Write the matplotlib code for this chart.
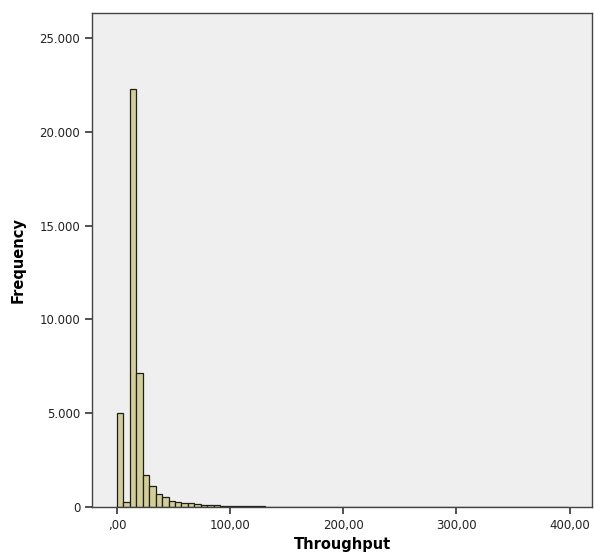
import numpy as np
import matplotlib

matplotlib.use("Agg", force=True)
import matplotlib.pyplot as plt  # noqa: E402
from matplotlib.ticker import FuncFormatter  # noqa: E402

# Histogram of Throughput (SPSS style): bin width and counts
bin_width = 5.7
counts = [
    5020, 280, 22300, 7130, 1700, 1120, 670, 500, 330, 265,
    230, 195, 150, 120, 95, 75, 60, 50, 40, 32,
    28, 24, 20, 17, 15, 13, 11, 10, 9, 8,
    7, 6, 5, 5, 4, 4, 3, 3, 2, 2,
    3, 2, 2, 1, 2, 1, 1, 2, 1, 1,
    1, 1, 0, 1, 1, 1, 0, 1, 1, 0,
    1, 1, 1, 0, 1, 1, 0, 1, 1, 1,
]
y_ticks = [0, 5000, 10000, 15000, 20000, 25000]
x_ticks = [0, 100, 200, 300, 400]


def de_int(v, pos=None):
    # German thousands separator: 25.000
    return "0" if v == 0 else f"{int(v):,}".replace(",", ".")


def de_dec(v, pos=None):
    # German decimal comma, SPSS drops leading zero: ,00
    s = f"{v:.2f}".replace(".", ",")
    return s[1:] if s.startswith("0") else s


plt.rcParams["font.family"] = ["DejaVu Sans"]

fig = plt.figure(figsize=(5.94, 5.57), dpi=100)
ax = fig.add_axes([0.155, 0.090, 0.842, 0.887])
ax.set_facecolor("#efefef")

edges = np.arange(len(counts)) * bin_width
ax.bar(edges, counts, width=bin_width, align="edge",
       color="#d3ce97", edgecolor="#1e1e1e", linewidth=0.9)

ax.set_xlim(-22, 420)
ax.set_ylim(0, 26340)
ax.set_xticks(x_ticks)
ax.set_yticks(y_ticks)
ax.xaxis.set_major_formatter(FuncFormatter(de_dec))
ax.yaxis.set_major_formatter(FuncFormatter(de_int))
ax.tick_params(axis="both", direction="out", length=5, width=1.2,
               color="#333333", labelsize=8.5, labelcolor="#222222")
for sp in ax.spines.values():
    sp.set_color("#444444")
    sp.set_linewidth(1.0)

ax.set_xlabel("Throughput", fontsize=10.5, fontweight="bold", labelpad=4)
ax.set_ylabel("Frequency", fontsize=10.5, fontweight="bold", labelpad=10)

fig.savefig("out.png", dpi=100)
plt.close(fig)
